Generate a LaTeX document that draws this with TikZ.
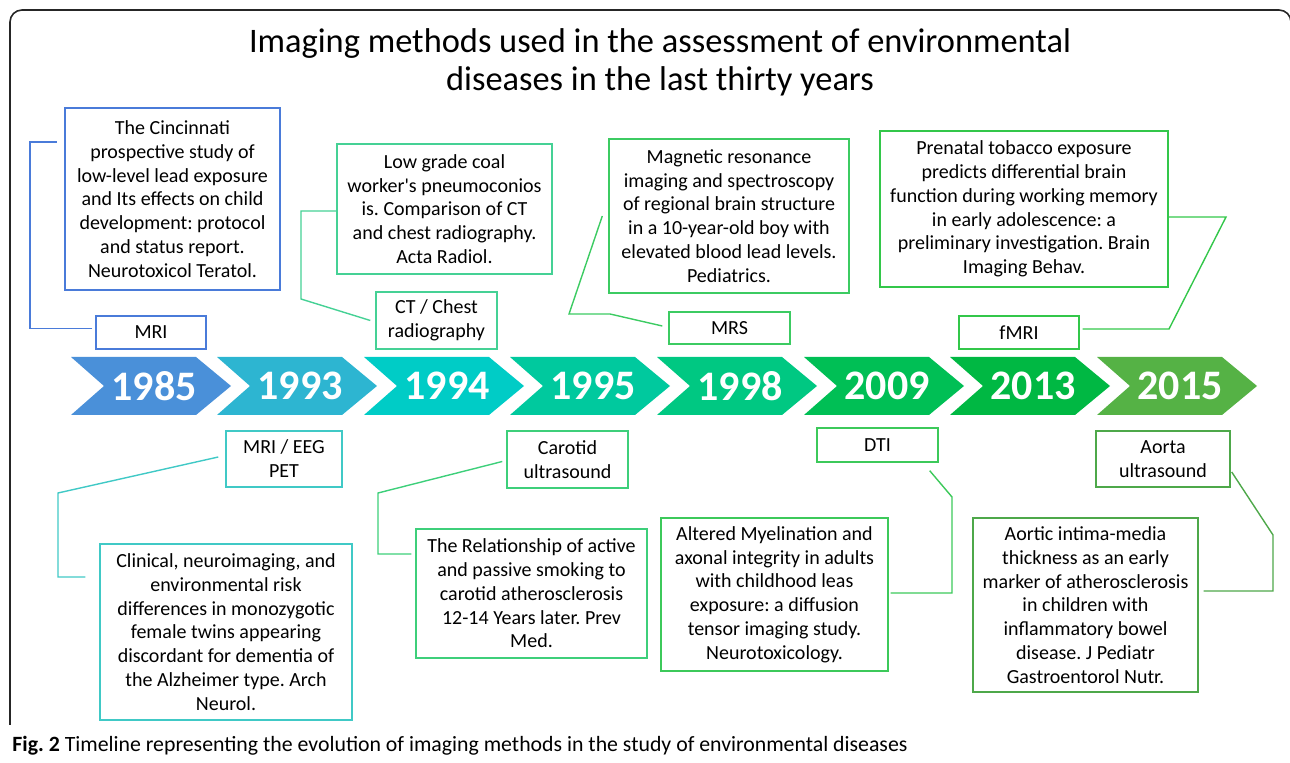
\documentclass[tikz,border=0pt]{standalone}
\usepackage{fontspec}
\setmainfont{Carlito}
\frenchspacing
\usetikzlibrary{calc}
\definecolor{cblue}{HTML}{4A7BD9}
\definecolor{ccyan}{HTML}{40C9C6}
\definecolor{csea}{HTML}{45D195}
\definecolor{ccar}{HTML}{3DCF7A}
\definecolor{cmrs}{HTML}{3CCB62}
\definecolor{cdti}{HTML}{3CC95A}
\definecolor{cfmri}{HTML}{33C74A}
\definecolor{caorta}{HTML}{4EA84A}
\definecolor{y1}{HTML}{4A90D9}
\definecolor{y2}{HTML}{2DB5D1}
\definecolor{y3}{HTML}{00CCC6}
\definecolor{y4}{HTML}{00C99E}
\definecolor{y5}{HTML}{00C882}
\definecolor{y6}{HTML}{00BF55}
\definecolor{y7}{HTML}{00B843}
\definecolor{y8}{HTML}{55B245}
\tikzset{
  frame/.style={draw=black!85, line width=0.8pt, rounded corners=6pt},
  box/.style={draw, fill=white, line width=0.7pt, align=center, inner sep=0pt, text=black,
    font=\fontsize{10}{11.9}\selectfont},
  tag/.style={box, font=\fontsize{10}{12}\selectfont},
  wh/.style 2 args={minimum width=#1*0.5pt, minimum height=#2*0.5pt},
  conn/.style={line width=0.7pt},
  year/.style={text=white, font=\fontsize{21}{21}\selectfont\bfseries},
  title/.style={align=center, font=\fontsize{17.2}{19}\selectfont},
  caption/.style={anchor=west, inner sep=0pt, font=\fontsize{10.9}{12}\selectfont}
}
\begin{document}
\begin{tikzpicture}[x=0.5pt, y=-0.5pt]
  \useasboundingbox (0,0) rectangle (1290,763);
  \draw[frame] (10,725) -- (10,10) -- (1291,10) -- (1291,725);

  \node[title] (title) at (660,62) {Imaging methods used in the assessment of environmental\\diseases in the last thirty years};

  % timeline
  \fill[y1] (71,357) -- ++(125,0) -- ++(35,29) -- ++(-35,29) -- ++(-125,0) -- ++(33,-29) -- cycle;
  \fill[y2] (217,357) -- ++(125,0) -- ++(35,29) -- ++(-35,29) -- ++(-125,0) -- ++(33,-29) -- cycle;
  \fill[y3] (364,357) -- ++(125,0) -- ++(35,29) -- ++(-35,29) -- ++(-125,0) -- ++(33,-29) -- cycle;
  \fill[y4] (510,357) -- ++(125,0) -- ++(35,29) -- ++(-35,29) -- ++(-125,0) -- ++(33,-29) -- cycle;
  \fill[y5] (657,357) -- ++(125,0) -- ++(35,29) -- ++(-35,29) -- ++(-125,0) -- ++(33,-29) -- cycle;
  \fill[y6] (804,357) -- ++(125,0) -- ++(35,29) -- ++(-35,29) -- ++(-125,0) -- ++(33,-29) -- cycle;
  \fill[y7] (950,357) -- ++(125,0) -- ++(35,29) -- ++(-35,29) -- ++(-125,0) -- ++(33,-29) -- cycle;
  \fill[y8] (1097,357) -- ++(125,0) -- ++(35,29) -- ++(-35,29) -- ++(-125,0) -- ++(33,-29) -- cycle;

  \node[year] (t1985) at (154,386) {1985};
  \node[year] (t1993) at (300,386) {1993};
  \node[year] (t1994) at (447,386) {1994};
  \node[year] (t1995) at (593,386) {1995};
  \node[year] (t1998) at (740,386) {1998};
  \node[year] (t2009) at (887,386) {2009};
  \node[year] (t2013) at (1033,386) {2013};
  \node[year] (t2015) at (1180,386) {2015};

  % upper row
  \node[box, draw=cblue, wh={215}{182}] (cinc) at (172.5,199) {The Cincinnati\\prospective study of\\low-level lead exposure\\and Its effects on child\\development: protocol\\and status report.\\Neurotoxicol Teratol.};
  \node[tag, draw=cblue, wh={110}{33}] (mri) at (151,332.5) {MRI};

  \node[box, draw=csea, wh={215}{130}] (coal) at (444.5,209) {Low grade coal\\worker\textquotesingle s pneumoconios\\is. Comparison of CT\\and chest radiography.\\Acta Radiol.};
  \node[tag, draw=csea, wh={121}{57}] (ct) at (436.5,320.5) {CT / Chest\\radiography};

  \node[box, draw=cmrs, wh={240}{154}] (magn) at (729,216) {Magnetic resonance\\imaging and spectroscopy\\of regional brain structure\\in a 10-year-old boy with\\elevated blood lead levels.\\Pediatrics.};
  \node[tag, draw=cmrs, wh={121}{32}] (mrs) at (729.5,328) {MRS};

  \node[box, draw=cfmri, wh={288}{156}] (pren) at (1024,209) {Prenatal tobacco exposure\\predicts differential brain\\function during working memory\\in early adolescence: a\\preliminary investigation. Brain\\Imaging Behav.};
  \node[tag, draw=cfmri, wh={120}{33}] (fmri) at (1019,332.5) {fMRI};

  % lower row
  \node[tag, draw=ccyan, wh={116}{56}] (eeg) at (284,459) {MRI / EEG\\PET};
  \node[box, draw=ccyan, wh={252}{176}] (clin) at (226,632) {Clinical, neuroimaging, and\\environmental risk\\differences in monozygotic\\female twins appearing\\discordant for dementia of\\the Alzheimer type. Arch\\Neurol.};

  \node[tag, draw=ccar, wh={121}{57}] (carot) at (567.5,459.5) {Carotid\\ultrasound};
  \node[box, draw=ccar, wh={231}{129}] (rel) at (531.5,593.5) {The Relationship of active\\and passive smoking to\\carotid atherosclerosis\\12-14 Years later. Prev\\Med.};

  \node[tag, draw=cdti, wh={121}{34}] (dti) at (877.5,445) {DTI};
  \node[box, draw=cdti, wh={227}{153}] (alt) at (774.5,594.5) {Altered Myelination and\\axonal integrity in adults\\with childhood leas\\exposure: a diffusion\\tensor imaging study.\\Neurotoxicology.};

  \node[tag, draw=caorta, wh={134}{56}] (aorta) at (1163,459) {Aorta\\ultrasound};
  \node[box, draw=caorta, wh={225}{174}] (aortic) at (1085.5,605) {Aortic intima-media\\thickness as an early\\marker of atherosclerosis\\in children with\\inflammatory bowel\\disease. J Pediatr\\Gastroentorol Nutr.};

  % connectors
  \draw[conn, cblue] ($(mri.west)+(-3,-4)$) -- (30,328.5) -- (30,142) -- ($(cinc.west)+(-7,-57)$);
  \draw[conn, csea] ($(ct.west)+(-5,0)$) -- (301,299) -- (301,211) -- ($(coal.west)+(0,2)$);
  \draw[conn, cmrs] ($(mrs.west)+(-6,-2)$) -- (610,314) -- (569,314) -- ($(magn.west)+(-6,0)$);
  \draw[conn, cfmri] ($(fmri.east)+(3,-3.5)$) -- (1169,329) -- (1226,217) -- ($(pren.east)+(0,8)$);
  \draw[conn, ccyan] ($(eeg.west)+(-7,-2)$) -- (58,493) -- (58,577) -- ($(clin.west)+(-14,-55)$);
  \draw[conn, ccar] ($(carot.west)+(-4,2)$) -- (378,493) -- (378,554) -- ($(rel.west)+(-4,-39.5)$);
  \draw[conn, cdti] ($(dti.south east)+(-9,8)$) -- (952,497) -- (952,593) -- ($(alt.east)+(2,-1.5)$);
  \draw[conn, caorta] ($(aorta.east)+(1,13)$) -- (1273,535) -- (1273,591) -- ($(aortic.east)+(5,-14)$);

  \node[caption] (cap) at (12,746) {\textbf{Fig. 2} Timeline representing the evolution of imaging methods in the study of environmental diseases};
\end{tikzpicture}
\end{document}
